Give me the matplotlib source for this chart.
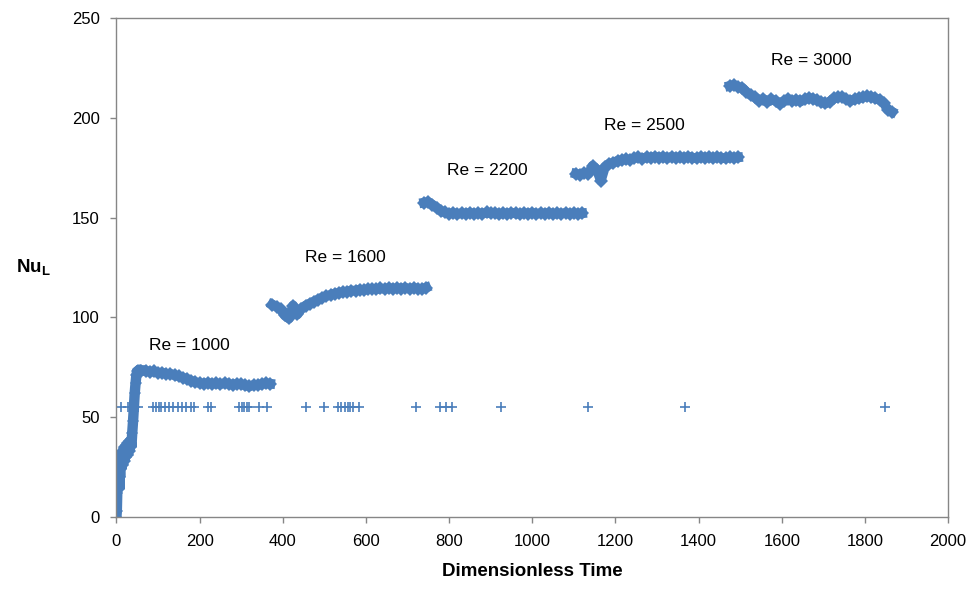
import numpy as np
import matplotlib.pyplot as plt

plt.rcParams['font.family'] = ['Liberation Sans', 'DejaVu Sans']

BLUE = '#4A7EBB'

# start-up ramp, Re = 1000
ramp_t = [0, 1, 2, 3, 4, 5, 6, 7, 8, 9, 10, 12, 14, 16, 18, 20, 22, 24, 26, 28,
          30, 32, 34, 36, 38, 40, 42, 44, 46, 48, 50, 53, 56]
ramp_nu = [0, 3, 12, 20, 26, 18, 28, 14, 30, 20, 32, 24, 33, 26, 35, 28, 36, 30,
           37, 31, 38, 33, 39, 35, 42, 48, 55, 62, 67, 71, 73, 73.5, 73.5]

# (start time, time step, Nu values) for each Reynolds number
re1000_nu = [73.2, 73.4, 72.8, 73.0, 72.3, 72.4, 71.7, 71.8, 71.0, 70.6, 69.8,
             69.2, 68.3, 67.6, 67.2, 66.8, 67.3, 66.7, 67.0, 66.6, 67.1, 66.8,
             66.2, 66.9, 66.5, 66.0, 65.5, 66.2, 66.0, 66.7, 67.0, 66.8]
re1600_nu = [106.5, 105.5, 104.0, 101.0, 99.5, 106.0, 101.5, 104.5, 106.0, 107.0,
             108.0, 109.0, 110.0, 110.8, 111.3, 112.0, 112.3, 112.8, 113.0, 113.5,
             113.4, 114.0, 113.7, 114.2, 114.5, 114.1, 114.6, 114.3, 114.8, 114.4,
             114.7, 114.5, 114.9, 114.3, 114.8, 114.5, 114.2, 115.0]
re2200_nu = [157.5, 157.8, 156.5, 155.0, 153.5, 152.6, 152.0, 152.4, 151.8, 152.3,
             152.0, 152.5, 151.9, 152.3, 152.0, 152.6, 152.1, 152.4, 151.8, 152.3,
             152.0, 152.5, 152.1, 151.8, 152.4, 152.0, 152.5, 151.9, 152.3, 152.0,
             152.5, 151.8, 152.2, 152.0, 152.4, 151.9, 152.3, 152.0, 152.2]
re2500_nu = [172.0, 171.5, 172.5, 172.0, 176.0, 174.0, 168.5, 175.5, 177.0, 177.5,
             178.5, 178.8, 179.3, 179.0, 179.8, 180.2, 179.6, 180.3, 180.0, 180.6,
             180.1, 180.4, 179.8, 180.5, 180.0, 180.3, 179.9, 180.5, 180.1, 179.7,
             180.4, 180.0, 180.3, 179.8, 180.4, 180.0, 179.7, 180.3, 180.0, 180.2]
re3000_nu = [216.0, 216.5, 215.5, 215.0, 213.0, 211.5, 210.5, 208.5, 209.5, 208.0,
             209.3, 208.5, 207.0, 208.3, 209.5, 208.5, 209.0, 208.2, 209.2, 210.0,
             209.6, 208.8, 208.0, 207.2, 208.0, 209.8, 210.2, 210.5, 209.3, 208.5,
             209.3, 209.8, 210.3, 210.8, 210.5, 209.8, 209.0, 207.5, 204.0, 203.0]

segments = [(60, 10, re1000_nu), (375, 10, re1600_nu), (740, 10, re2200_nu),
            (1105, 10, re2500_nu), (1475, 10, re3000_nu)]

# second series: points at Nu = 55
plus_t = [12, 28, 52, 88, 96, 102, 108, 116, 126, 136, 147, 158, 168, 180, 187,
          220, 227, 296, 302, 308, 315, 320, 342, 363, 456, 500, 532, 541, 550,
          556, 562, 570, 584, 720, 777, 792, 807, 926, 1133, 1368, 1848]
plus_nu = [55] * len(plus_t)

labels = ['Re = 1000', 'Re = 1600', 'Re = 2200', 'Re = 2500', 'Re = 3000']
label_pos = [(176, 86), (551, 130), (892, 173.5), (1270, 196), (1671, 228.5)]

fig = plt.figure(figsize=(9.66, 5.91), dpi=100)
ax = fig.add_axes([0.1205, 0.125, 0.861, 0.8445])

ax.plot(ramp_t, ramp_nu, color=BLUE, lw=7.5, marker='D', ms=6, mew=0,
        solid_joinstyle='miter')
for t0, dt, nu in segments:
    t = t0 + dt * np.arange(len(nu))
    ax.plot(t, nu, color=BLUE, lw=7, marker='D', ms=7, mew=0, ls='-')

ax.plot(plus_t, plus_nu, ls='none', marker='+', ms=7, mew=1.2, color=BLUE)

for txt, (x, y) in zip(labels, label_pos):
    ax.text(x, y, txt, ha='center', va='center', fontsize=12.5, color='black')

ax.set_xlim(0, 2000)
ax.set_ylim(0, 250)
ax.set_xticks(range(0, 2001, 200))
ax.set_yticks(range(0, 251, 50))
for s in ax.spines.values():
    s.set_color('#868686')
    s.set_linewidth(1)
ax.tick_params(axis='both', colors='#868686', labelcolor='black', labelsize=12,
               length=4, width=1)
ax.tick_params(axis='y', pad=8)
ax.tick_params(axis='x', pad=8)

ax.set_xlabel('Dimensionless Time', fontsize=13.5, fontweight='bold', labelpad=10)
ax.set_ylabel('Nu$_\\mathregular{L}$', fontsize=13.5, fontweight='bold',
              rotation=0, labelpad=28, va='center')

fig.savefig('out.png', dpi=100)
